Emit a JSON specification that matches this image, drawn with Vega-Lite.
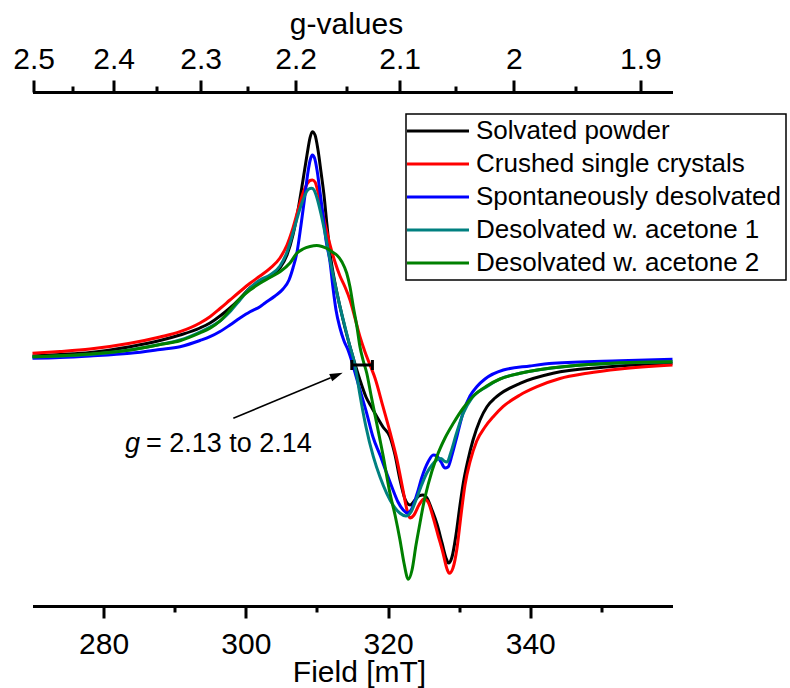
{
  "$schema": "https://vega.github.io/schema/vega-lite/v6.json",
  "width": 640,
  "height": 514,
  "autosize": {"type": "none"},
  "padding": {"left": 32.5, "top": 92, "right": 117.5, "bottom": 82},
  "background": "white",
  "config": {
    "view": {"stroke": null},
    "font": "Liberation Sans",
    "legend": {"strokeWidth": 1.5},
    "axis": {"domainColor": "black", "tickColor": "black", "labelColor": "black", "titleColor": "black", "domainWidth": 3, "tickWidth": 3, "labelFont": "Liberation Sans", "titleFont": "Liberation Sans", "labelFontSize": 30, "titleFontSize": 30, "titleFontWeight": "normal", "grid": false, "labelFlush": false, "labelOverlap": false}
  },
  "datasets": {
    "spectra": [
      {"sample": "Solvated powder", "field": 270.00, "signal": 0.01},
      {"sample": "Solvated powder", "field": 273.87, "signal": 0.025},
      {"sample": "Solvated powder", "field": 278.09, "signal": 0.045},
      {"sample": "Solvated powder", "field": 283.71, "signal": 0.103},
      {"sample": "Solvated powder", "field": 287.93, "signal": 0.165},
      {"sample": "Solvated powder", "field": 290.74, "signal": 0.22},
      {"sample": "Solvated powder", "field": 293.55, "signal": 0.29},
      {"sample": "Solvated powder", "field": 294.96, "signal": 0.34},
      {"sample": "Solvated powder", "field": 296.37, "signal": 0.41},
      {"sample": "Solvated powder", "field": 297.77, "signal": 0.49},
      {"sample": "Solvated powder", "field": 299.18, "signal": 0.585},
      {"sample": "Solvated powder", "field": 300.59, "signal": 0.69},
      {"sample": "Solvated powder", "field": 301.99, "signal": 0.76},
      {"sample": "Solvated powder", "field": 303.40, "signal": 0.803},
      {"sample": "Solvated powder", "field": 304.80, "signal": 0.89},
      {"sample": "Solvated powder", "field": 305.79, "signal": 1.02},
      {"sample": "Solvated powder", "field": 306.63, "signal": 1.22},
      {"sample": "Solvated powder", "field": 307.34, "signal": 1.47},
      {"sample": "Solvated powder", "field": 308.04, "signal": 1.77},
      {"sample": "Solvated powder", "field": 308.60, "signal": 2.02},
      {"sample": "Solvated powder", "field": 309.02, "signal": 2.19},
      {"sample": "Solvated powder", "field": 309.35, "signal": 2.253},
      {"sample": "Solvated powder", "field": 309.73, "signal": 2.22},
      {"sample": "Solvated powder", "field": 310.15, "signal": 2.07},
      {"sample": "Solvated powder", "field": 310.57, "signal": 1.85},
      {"sample": "Solvated powder", "field": 310.99, "signal": 1.62},
      {"sample": "Solvated powder", "field": 311.41, "signal": 1.32},
      {"sample": "Solvated powder", "field": 311.84, "signal": 1.04},
      {"sample": "Solvated powder", "field": 312.54, "signal": 0.74},
      {"sample": "Solvated powder", "field": 313.24, "signal": 0.503},
      {"sample": "Solvated powder", "field": 313.95, "signal": 0.29},
      {"sample": "Solvated powder", "field": 314.65, "signal": 0.103},
      {"sample": "Solvated powder", "field": 315.35, "signal": -0.07},
      {"sample": "Solvated powder", "field": 316.05, "signal": -0.23},
      {"sample": "Solvated powder", "field": 316.90, "signal": -0.40},
      {"sample": "Solvated powder", "field": 317.74, "signal": -0.51},
      {"sample": "Solvated powder", "field": 318.45, "signal": -0.60},
      {"sample": "Solvated powder", "field": 319.29, "signal": -0.70},
      {"sample": "Solvated powder", "field": 320.27, "signal": -0.80},
      {"sample": "Solvated powder", "field": 320.98, "signal": -0.98},
      {"sample": "Solvated powder", "field": 321.68, "signal": -1.23},
      {"sample": "Solvated powder", "field": 322.38, "signal": -1.42},
      {"sample": "Solvated powder", "field": 323.09, "signal": -1.48},
      {"sample": "Solvated powder", "field": 323.79, "signal": -1.43},
      {"sample": "Solvated powder", "field": 324.35, "signal": -1.39},
      {"sample": "Solvated powder", "field": 324.91, "signal": -1.38},
      {"sample": "Solvated powder", "field": 325.48, "signal": -1.41},
      {"sample": "Solvated powder", "field": 326.18, "signal": -1.53},
      {"sample": "Solvated powder", "field": 326.88, "signal": -1.67},
      {"sample": "Solvated powder", "field": 327.59, "signal": -1.86},
      {"sample": "Solvated powder", "field": 328.15, "signal": -2.01},
      {"sample": "Solvated powder", "field": 328.50, "signal": -2.06},
      {"sample": "Solvated powder", "field": 328.99, "signal": -2.00},
      {"sample": "Solvated powder", "field": 329.55, "signal": -1.78},
      {"sample": "Solvated powder", "field": 330.12, "signal": -1.48},
      {"sample": "Solvated powder", "field": 330.58, "signal": -1.26},
      {"sample": "Solvated powder", "field": 331.24, "signal": -1.03},
      {"sample": "Solvated powder", "field": 331.95, "signal": -0.83},
      {"sample": "Solvated powder", "field": 332.93, "signal": -0.63},
      {"sample": "Solvated powder", "field": 333.91, "signal": -0.497},
      {"sample": "Solvated powder", "field": 335.04, "signal": -0.41},
      {"sample": "Solvated powder", "field": 335.74, "signal": -0.37},
      {"sample": "Solvated powder", "field": 338.56, "signal": -0.263},
      {"sample": "Solvated powder", "field": 343.20, "signal": -0.163},
      {"sample": "Solvated powder", "field": 350.23, "signal": -0.103},
      {"sample": "Solvated powder", "field": 355.43, "signal": -0.075},
      {"sample": "Solvated powder", "field": 360.00, "signal": -0.063},

      {"sample": "Crushed single crystals", "field": 270.00, "signal": 0.037},
      {"sample": "Crushed single crystals", "field": 273.87, "signal": 0.055},
      {"sample": "Crushed single crystals", "field": 278.09, "signal": 0.08},
      {"sample": "Crushed single crystals", "field": 283.71, "signal": 0.137},
      {"sample": "Crushed single crystals", "field": 287.93, "signal": 0.20},
      {"sample": "Crushed single crystals", "field": 290.74, "signal": 0.253},
      {"sample": "Crushed single crystals", "field": 293.55, "signal": 0.34},
      {"sample": "Crushed single crystals", "field": 294.96, "signal": 0.403},
      {"sample": "Crushed single crystals", "field": 296.37, "signal": 0.485},
      {"sample": "Crushed single crystals", "field": 297.77, "signal": 0.57},
      {"sample": "Crushed single crystals", "field": 299.18, "signal": 0.655},
      {"sample": "Crushed single crystals", "field": 300.59, "signal": 0.737},
      {"sample": "Crushed single crystals", "field": 301.99, "signal": 0.81},
      {"sample": "Crushed single crystals", "field": 303.40, "signal": 0.887},
      {"sample": "Crushed single crystals", "field": 304.80, "signal": 0.99},
      {"sample": "Crushed single crystals", "field": 305.79, "signal": 1.12},
      {"sample": "Crushed single crystals", "field": 306.63, "signal": 1.29},
      {"sample": "Crushed single crystals", "field": 307.34, "signal": 1.47},
      {"sample": "Crushed single crystals", "field": 308.04, "signal": 1.64},
      {"sample": "Crushed single crystals", "field": 308.60, "signal": 1.73},
      {"sample": "Crushed single crystals", "field": 309.02, "signal": 1.765},
      {"sample": "Crushed single crystals", "field": 309.35, "signal": 1.77},
      {"sample": "Crushed single crystals", "field": 309.73, "signal": 1.75},
      {"sample": "Crushed single crystals", "field": 310.15, "signal": 1.65},
      {"sample": "Crushed single crystals", "field": 310.71, "signal": 1.47},
      {"sample": "Crushed single crystals", "field": 311.27, "signal": 1.29},
      {"sample": "Crushed single crystals", "field": 311.84, "signal": 1.12},
      {"sample": "Crushed single crystals", "field": 312.54, "signal": 0.95},
      {"sample": "Crushed single crystals", "field": 313.24, "signal": 0.81},
      {"sample": "Crushed single crystals", "field": 313.95, "signal": 0.70},
      {"sample": "Crushed single crystals", "field": 314.65, "signal": 0.57},
      {"sample": "Crushed single crystals", "field": 315.35, "signal": 0.39},
      {"sample": "Crushed single crystals", "field": 316.05, "signal": 0.203},
      {"sample": "Crushed single crystals", "field": 316.76, "signal": 0.05},
      {"sample": "Crushed single crystals", "field": 317.46, "signal": -0.08},
      {"sample": "Crushed single crystals", "field": 318.16, "signal": -0.21},
      {"sample": "Crushed single crystals", "field": 319.29, "signal": -0.497},
      {"sample": "Crushed single crystals", "field": 320.27, "signal": -0.75},
      {"sample": "Crushed single crystals", "field": 321.26, "signal": -1.03},
      {"sample": "Crushed single crystals", "field": 322.10, "signal": -1.33},
      {"sample": "Crushed single crystals", "field": 322.66, "signal": -1.53},
      {"sample": "Crushed single crystals", "field": 323.09, "signal": -1.61},
      {"sample": "Crushed single crystals", "field": 323.65, "signal": -1.58},
      {"sample": "Crushed single crystals", "field": 324.35, "signal": -1.48},
      {"sample": "Crushed single crystals", "field": 325.05, "signal": -1.42},
      {"sample": "Crushed single crystals", "field": 325.62, "signal": -1.45},
      {"sample": "Crushed single crystals", "field": 326.32, "signal": -1.60},
      {"sample": "Crushed single crystals", "field": 327.02, "signal": -1.78},
      {"sample": "Crushed single crystals", "field": 327.73, "signal": -1.96},
      {"sample": "Crushed single crystals", "field": 328.29, "signal": -2.12},
      {"sample": "Crushed single crystals", "field": 328.61, "signal": -2.163},
      {"sample": "Crushed single crystals", "field": 329.13, "signal": -2.11},
      {"sample": "Crushed single crystals", "field": 329.70, "signal": -1.91},
      {"sample": "Crushed single crystals", "field": 330.26, "signal": -1.58},
      {"sample": "Crushed single crystals", "field": 330.82, "signal": -1.28},
      {"sample": "Crushed single crystals", "field": 331.52, "signal": -1.05},
      {"sample": "Crushed single crystals", "field": 332.47, "signal": -0.84},
      {"sample": "Crushed single crystals", "field": 333.63, "signal": -0.70},
      {"sample": "Crushed single crystals", "field": 334.76, "signal": -0.60},
      {"sample": "Crushed single crystals", "field": 336.16, "signal": -0.497},
      {"sample": "Crushed single crystals", "field": 338.56, "signal": -0.38},
      {"sample": "Crushed single crystals", "field": 340.95, "signal": -0.297},
      {"sample": "Crushed single crystals", "field": 344.18, "signal": -0.215},
      {"sample": "Crushed single crystals", "field": 347.98, "signal": -0.163},
      {"sample": "Crushed single crystals", "field": 352.62, "signal": -0.12},
      {"sample": "Crushed single crystals", "field": 360.00, "signal": -0.08},

      {"sample": "Spontaneously desolvated", "field": 270.00, "signal": -0.013},
      {"sample": "Spontaneously desolvated", "field": 273.87, "signal": -0.005},
      {"sample": "Spontaneously desolvated", "field": 278.09, "signal": 0.01},
      {"sample": "Spontaneously desolvated", "field": 283.71, "signal": 0.037},
      {"sample": "Spontaneously desolvated", "field": 287.93, "signal": 0.075},
      {"sample": "Spontaneously desolvated", "field": 290.74, "signal": 0.103},
      {"sample": "Spontaneously desolvated", "field": 293.55, "signal": 0.165},
      {"sample": "Spontaneously desolvated", "field": 294.96, "signal": 0.203},
      {"sample": "Spontaneously desolvated", "field": 296.37, "signal": 0.255},
      {"sample": "Spontaneously desolvated", "field": 297.77, "signal": 0.32},
      {"sample": "Spontaneously desolvated", "field": 299.18, "signal": 0.39},
      {"sample": "Spontaneously desolvated", "field": 300.59, "signal": 0.453},
      {"sample": "Spontaneously desolvated", "field": 301.99, "signal": 0.503},
      {"sample": "Spontaneously desolvated", "field": 302.70, "signal": 0.54},
      {"sample": "Spontaneously desolvated", "field": 304.10, "signal": 0.61},
      {"sample": "Spontaneously desolvated", "field": 305.23, "signal": 0.68},
      {"sample": "Spontaneously desolvated", "field": 306.07, "signal": 0.77},
      {"sample": "Spontaneously desolvated", "field": 306.63, "signal": 0.89},
      {"sample": "Spontaneously desolvated", "field": 307.20, "signal": 1.05},
      {"sample": "Spontaneously desolvated", "field": 307.76, "signal": 1.32},
      {"sample": "Spontaneously desolvated", "field": 308.32, "signal": 1.62},
      {"sample": "Spontaneously desolvated", "field": 308.74, "signal": 1.85},
      {"sample": "Spontaneously desolvated", "field": 309.09, "signal": 1.98},
      {"sample": "Spontaneously desolvated", "field": 309.35, "signal": 2.02},
      {"sample": "Spontaneously desolvated", "field": 309.66, "signal": 1.99},
      {"sample": "Spontaneously desolvated", "field": 310.01, "signal": 1.87},
      {"sample": "Spontaneously desolvated", "field": 310.43, "signal": 1.65},
      {"sample": "Spontaneously desolvated", "field": 310.85, "signal": 1.42},
      {"sample": "Spontaneously desolvated", "field": 311.27, "signal": 1.17},
      {"sample": "Spontaneously desolvated", "field": 311.84, "signal": 0.95},
      {"sample": "Spontaneously desolvated", "field": 312.26, "signal": 0.69},
      {"sample": "Spontaneously desolvated", "field": 312.68, "signal": 0.47},
      {"sample": "Spontaneously desolvated", "field": 313.24, "signal": 0.29},
      {"sample": "Spontaneously desolvated", "field": 313.81, "signal": 0.16},
      {"sample": "Spontaneously desolvated", "field": 314.37, "signal": 0.07},
      {"sample": "Spontaneously desolvated", "field": 314.93, "signal": -0.05},
      {"sample": "Spontaneously desolvated", "field": 315.49, "signal": -0.19},
      {"sample": "Spontaneously desolvated", "field": 316.05, "signal": -0.33},
      {"sample": "Spontaneously desolvated", "field": 317.00, "signal": -0.563},
      {"sample": "Spontaneously desolvated", "field": 317.88, "signal": -0.80},
      {"sample": "Spontaneously desolvated", "field": 318.87, "signal": -0.98},
      {"sample": "Spontaneously desolvated", "field": 319.81, "signal": -1.163},
      {"sample": "Spontaneously desolvated", "field": 320.70, "signal": -1.33},
      {"sample": "Spontaneously desolvated", "field": 321.40, "signal": -1.45},
      {"sample": "Spontaneously desolvated", "field": 322.14, "signal": -1.53},
      {"sample": "Spontaneously desolvated", "field": 322.66, "signal": -1.56},
      {"sample": "Spontaneously desolvated", "field": 323.23, "signal": -1.53},
      {"sample": "Spontaneously desolvated", "field": 324.07, "signal": -1.37},
      {"sample": "Spontaneously desolvated", "field": 324.77, "signal": -1.20},
      {"sample": "Spontaneously desolvated", "field": 325.62, "signal": -1.05},
      {"sample": "Spontaneously desolvated", "field": 326.36, "signal": -0.98},
      {"sample": "Spontaneously desolvated", "field": 326.88, "signal": -0.99},
      {"sample": "Spontaneously desolvated", "field": 327.45, "signal": -1.05},
      {"sample": "Spontaneously desolvated", "field": 328.01, "signal": -1.11},
      {"sample": "Spontaneously desolvated", "field": 328.43, "signal": -1.10},
      {"sample": "Spontaneously desolvated", "field": 328.99, "signal": -0.98},
      {"sample": "Spontaneously desolvated", "field": 329.70, "signal": -0.79},
      {"sample": "Spontaneously desolvated", "field": 330.58, "signal": -0.55},
      {"sample": "Spontaneously desolvated", "field": 331.52, "signal": -0.39},
      {"sample": "Spontaneously desolvated", "field": 332.47, "signal": -0.297},
      {"sample": "Spontaneously desolvated", "field": 333.63, "signal": -0.22},
      {"sample": "Spontaneously desolvated", "field": 336.21, "signal": -0.13},
      {"sample": "Spontaneously desolvated", "field": 339.96, "signal": -0.09},
      {"sample": "Spontaneously desolvated", "field": 343.20, "signal": -0.063},
      {"sample": "Spontaneously desolvated", "field": 352.62, "signal": -0.037},
      {"sample": "Spontaneously desolvated", "field": 360.00, "signal": -0.023},

      {"sample": "Desolvated w. acetone 1", "field": 270.00, "signal": 0.00},
      {"sample": "Desolvated w. acetone 1", "field": 273.87, "signal": 0.01},
      {"sample": "Desolvated w. acetone 1", "field": 278.09, "signal": 0.025},
      {"sample": "Desolvated w. acetone 1", "field": 283.71, "signal": 0.07},
      {"sample": "Desolvated w. acetone 1", "field": 287.93, "signal": 0.125},
      {"sample": "Desolvated w. acetone 1", "field": 290.74, "signal": 0.17},
      {"sample": "Desolvated w. acetone 1", "field": 293.55, "signal": 0.25},
      {"sample": "Desolvated w. acetone 1", "field": 294.96, "signal": 0.30},
      {"sample": "Desolvated w. acetone 1", "field": 296.37, "signal": 0.36},
      {"sample": "Desolvated w. acetone 1", "field": 297.77, "signal": 0.453},
      {"sample": "Desolvated w. acetone 1", "field": 299.18, "signal": 0.57},
      {"sample": "Desolvated w. acetone 1", "field": 300.59, "signal": 0.69},
      {"sample": "Desolvated w. acetone 1", "field": 301.99, "signal": 0.77},
      {"sample": "Desolvated w. acetone 1", "field": 303.40, "signal": 0.82},
      {"sample": "Desolvated w. acetone 1", "field": 304.80, "signal": 0.91},
      {"sample": "Desolvated w. acetone 1", "field": 305.79, "signal": 1.05},
      {"sample": "Desolvated w. acetone 1", "field": 306.63, "signal": 1.24},
      {"sample": "Desolvated w. acetone 1", "field": 307.34, "signal": 1.42},
      {"sample": "Desolvated w. acetone 1", "field": 308.04, "signal": 1.57},
      {"sample": "Desolvated w. acetone 1", "field": 308.60, "signal": 1.66},
      {"sample": "Desolvated w. acetone 1", "field": 309.02, "signal": 1.685},
      {"sample": "Desolvated w. acetone 1", "field": 309.26, "signal": 1.687},
      {"sample": "Desolvated w. acetone 1", "field": 309.59, "signal": 1.67},
      {"sample": "Desolvated w. acetone 1", "field": 310.01, "signal": 1.59},
      {"sample": "Desolvated w. acetone 1", "field": 310.57, "signal": 1.43},
      {"sample": "Desolvated w. acetone 1", "field": 311.13, "signal": 1.24},
      {"sample": "Desolvated w. acetone 1", "field": 311.84, "signal": 0.97},
      {"sample": "Desolvated w. acetone 1", "field": 312.54, "signal": 0.73},
      {"sample": "Desolvated w. acetone 1", "field": 313.24, "signal": 0.503},
      {"sample": "Desolvated w. acetone 1", "field": 313.95, "signal": 0.30},
      {"sample": "Desolvated w. acetone 1", "field": 314.65, "signal": 0.103},
      {"sample": "Desolvated w. acetone 1", "field": 315.11, "signal": -0.01},
      {"sample": "Desolvated w. acetone 1", "field": 315.59, "signal": -0.18},
      {"sample": "Desolvated w. acetone 1", "field": 316.05, "signal": -0.38},
      {"sample": "Desolvated w. acetone 1", "field": 316.90, "signal": -0.70},
      {"sample": "Desolvated w. acetone 1", "field": 317.93, "signal": -0.997},
      {"sample": "Desolvated w. acetone 1", "field": 318.87, "signal": -1.20},
      {"sample": "Desolvated w. acetone 1", "field": 319.81, "signal": -1.363},
      {"sample": "Desolvated w. acetone 1", "field": 320.70, "signal": -1.48},
      {"sample": "Desolvated w. acetone 1", "field": 321.68, "signal": -1.563},
      {"sample": "Desolvated w. acetone 1", "field": 322.52, "signal": -1.59},
      {"sample": "Desolvated w. acetone 1", "field": 323.23, "signal": -1.55},
      {"sample": "Desolvated w. acetone 1", "field": 323.93, "signal": -1.43},
      {"sample": "Desolvated w. acetone 1", "field": 324.63, "signal": -1.297},
      {"sample": "Desolvated w. acetone 1", "field": 325.43, "signal": -1.163},
      {"sample": "Desolvated w. acetone 1", "field": 326.18, "signal": -1.08},
      {"sample": "Desolvated w. acetone 1", "field": 326.84, "signal": -1.03},
      {"sample": "Desolvated w. acetone 1", "field": 327.45, "signal": -1.015},
      {"sample": "Desolvated w. acetone 1", "field": 327.87, "signal": -1.04},
      {"sample": "Desolvated w. acetone 1", "field": 328.29, "signal": -1.05},
      {"sample": "Desolvated w. acetone 1", "field": 328.85, "signal": -0.95},
      {"sample": "Desolvated w. acetone 1", "field": 329.55, "signal": -0.78},
      {"sample": "Desolvated w. acetone 1", "field": 330.58, "signal": -0.563},
      {"sample": "Desolvated w. acetone 1", "field": 331.80, "signal": -0.41},
      {"sample": "Desolvated w. acetone 1", "field": 333.87, "signal": -0.297},
      {"sample": "Desolvated w. acetone 1", "field": 335.74, "signal": -0.22},
      {"sample": "Desolvated w. acetone 1", "field": 338.56, "signal": -0.163},
      {"sample": "Desolvated w. acetone 1", "field": 345.59, "signal": -0.09},
      {"sample": "Desolvated w. acetone 1", "field": 352.62, "signal": -0.06},
      {"sample": "Desolvated w. acetone 1", "field": 360.00, "signal": -0.047},

      {"sample": "Desolvated w. acetone 2", "field": 270.00, "signal": 0.003},
      {"sample": "Desolvated w. acetone 2", "field": 273.87, "signal": 0.012},
      {"sample": "Desolvated w. acetone 2", "field": 278.09, "signal": 0.03},
      {"sample": "Desolvated w. acetone 2", "field": 283.71, "signal": 0.07},
      {"sample": "Desolvated w. acetone 2", "field": 287.93, "signal": 0.125},
      {"sample": "Desolvated w. acetone 2", "field": 290.74, "signal": 0.163},
      {"sample": "Desolvated w. acetone 2", "field": 293.55, "signal": 0.24},
      {"sample": "Desolvated w. acetone 2", "field": 294.96, "signal": 0.287},
      {"sample": "Desolvated w. acetone 2", "field": 296.37, "signal": 0.36},
      {"sample": "Desolvated w. acetone 2", "field": 297.77, "signal": 0.47},
      {"sample": "Desolvated w. acetone 2", "field": 299.18, "signal": 0.585},
      {"sample": "Desolvated w. acetone 2", "field": 300.59, "signal": 0.67},
      {"sample": "Desolvated w. acetone 2", "field": 301.99, "signal": 0.737},
      {"sample": "Desolvated w. acetone 2", "field": 303.40, "signal": 0.795},
      {"sample": "Desolvated w. acetone 2", "field": 304.80, "signal": 0.853},
      {"sample": "Desolvated w. acetone 2", "field": 306.21, "signal": 0.94},
      {"sample": "Desolvated w. acetone 2", "field": 307.20, "signal": 1.04},
      {"sample": "Desolvated w. acetone 2", "field": 308.04, "signal": 1.08},
      {"sample": "Desolvated w. acetone 2", "field": 309.02, "signal": 1.105},
      {"sample": "Desolvated w. acetone 2", "field": 309.97, "signal": 1.115},
      {"sample": "Desolvated w. acetone 2", "field": 310.71, "signal": 1.105},
      {"sample": "Desolvated w. acetone 2", "field": 311.55, "signal": 1.08},
      {"sample": "Desolvated w. acetone 2", "field": 312.26, "signal": 1.045},
      {"sample": "Desolvated w. acetone 2", "field": 312.78, "signal": 1.02},
      {"sample": "Desolvated w. acetone 2", "field": 313.52, "signal": 0.95},
      {"sample": "Desolvated w. acetone 2", "field": 314.18, "signal": 0.84},
      {"sample": "Desolvated w. acetone 2", "field": 314.65, "signal": 0.70},
      {"sample": "Desolvated w. acetone 2", "field": 315.11, "signal": 0.503},
      {"sample": "Desolvated w. acetone 2", "field": 315.63, "signal": 0.30},
      {"sample": "Desolvated w. acetone 2", "field": 316.05, "signal": 0.103},
      {"sample": "Desolvated w. acetone 2", "field": 316.48, "signal": -0.03},
      {"sample": "Desolvated w. acetone 2", "field": 317.00, "signal": -0.16},
      {"sample": "Desolvated w. acetone 2", "field": 317.60, "signal": -0.38},
      {"sample": "Desolvated w. acetone 2", "field": 318.40, "signal": -0.663},
      {"sample": "Desolvated w. acetone 2", "field": 319.29, "signal": -0.98},
      {"sample": "Desolvated w. acetone 2", "field": 320.27, "signal": -1.363},
      {"sample": "Desolvated w. acetone 2", "field": 320.98, "signal": -1.58},
      {"sample": "Desolvated w. acetone 2", "field": 321.68, "signal": -1.83},
      {"sample": "Desolvated w. acetone 2", "field": 322.24, "signal": -2.06},
      {"sample": "Desolvated w. acetone 2", "field": 322.85, "signal": -2.223},
      {"sample": "Desolvated w. acetone 2", "field": 323.37, "signal": -2.13},
      {"sample": "Desolvated w. acetone 2", "field": 323.93, "signal": -1.88},
      {"sample": "Desolvated w. acetone 2", "field": 324.49, "signal": -1.66},
      {"sample": "Desolvated w. acetone 2", "field": 324.96, "signal": -1.48},
      {"sample": "Desolvated w. acetone 2", "field": 325.62, "signal": -1.28},
      {"sample": "Desolvated w. acetone 2", "field": 326.84, "signal": -1.00},
      {"sample": "Desolvated w. acetone 2", "field": 328.01, "signal": -0.81},
      {"sample": "Desolvated w. acetone 2", "field": 329.18, "signal": -0.663},
      {"sample": "Desolvated w. acetone 2", "field": 330.58, "signal": -0.51},
      {"sample": "Desolvated w. acetone 2", "field": 331.99, "signal": -0.39},
      {"sample": "Desolvated w. acetone 2", "field": 333.87, "signal": -0.29},
      {"sample": "Desolvated w. acetone 2", "field": 335.74, "signal": -0.22},
      {"sample": "Desolvated w. acetone 2", "field": 338.56, "signal": -0.163},
      {"sample": "Desolvated w. acetone 2", "field": 345.59, "signal": -0.09},
      {"sample": "Desolvated w. acetone 2", "field": 352.62, "signal": -0.057},
      {"sample": "Desolvated w. acetone 2", "field": 360.00, "signal": -0.047}
    ]
  },
  "resolve": {"axis": {"x": "independent"}},
  "layer": [
    {
      "data": {"name": "spectra"},
      "mark": {"type": "line", "strokeWidth": 3, "interpolate": "monotone"},
      "encoding": {
        "x": {"field": "field", "type": "quantitative", "scale": {"domain": [270, 360], "nice": false, "zero": false},
          "axis": {"orient": "bottom", "values": [280, 300, 320, 340], "tickSize": 12, "labelPadding": 11.5, "title": "Field [mT]", "titlePadding": -2, "titleX": 326.5}},
        "y": {"field": "signal", "type": "quantitative", "scale": {"domain": [-2.49, 2.65], "nice": false, "zero": false}, "axis": null},
        "color": {"field": "sample", "type": "nominal",
          "scale": {"domain": ["Solvated powder", "Crushed single crystals", "Spontaneously desolvated", "Desolvated w. acetone 1", "Desolvated w. acetone 2"], "range": ["#000000", "#ff0000", "#0000ff", "#008080", "#008000"]},
          "legend": {"title": null, "orient": "none", "legendX": 373.5, "legendY": 22, "strokeColor": "black", "fillColor": "white", "padding": 4, "symbolType": "M-3,0H3", "symbolStrokeWidth": 3, "symbolSize": 427, "symbolOffset": 15, "labelFontSize": 26, "labelFont": "Liberation Sans", "labelColor": "black", "labelOffset": 25, "labelLimit": 500, "rowPadding": 7}
        }
      }
    },
    {
      "data": {"values": [{"from": 314.9, "to": 317.8, "level": -0.08}]},
      "mark": {"type": "rule", "strokeWidth": 3, "color": "black"},
      "encoding": {
        "x": {"field": "from", "type": "quantitative", "axis": {"orient": "bottom", "values": [290, 310, 330, 350], "tickSize": 6, "labels": false, "domain": false, "title": null}},
        "x2": {"field": "to"},
        "y": {"field": "level", "type": "quantitative", "axis": null}
      }
    },
    {
      "data": {"values": [{"end": 314.9, "level": -0.08}, {"end": 317.8, "level": -0.08}]},
      "mark": {"type": "tick", "orient": "vertical", "size": 10, "thickness": 3, "color": "black", "opacity": 1},
      "encoding": {
        "x": {"field": "end", "type": "quantitative", "axis": {"orient": "top", "values": [270.16, 281.417, 293.652, 307.0, 321.619, 337.7, 355.474], "labelExpr": "format(675.4 / datum.value, '.1~f')", "tickSize": 12, "labelPadding": 6, "title": "g-values", "titlePadding": 5, "titleX": 313.5}},
        "y": {"field": "level", "type": "quantitative", "axis": null}
      }
    },
    {
      "data": {"values": [{"x0": 298.24, "y0": -0.613, "x1": 311.93, "y1": -0.207}]},
      "mark": {"type": "rule", "strokeWidth": 1.5, "color": "black"},
      "encoding": {
        "x": {"field": "x0", "type": "quantitative", "axis": {"orient": "top", "values": [275.673, 287.404, 300.178, 314.14, 329.463, 346.359], "tickSize": 6, "labels": false, "domain": false, "title": null}},
        "y": {"field": "y0", "type": "quantitative", "axis": null},
        "x2": {"field": "x1"},
        "y2": {"field": "y1"}
      }
    },
    {
      "data": {"values": [{"x": 312.78, "y": -0.182}]},
      "mark": {"type": "point", "shape": "M1,0L-1,-0.6L-1,0.6Z", "filled": true, "color": "black", "size": 169, "angle": 337.4, "opacity": 1},
      "encoding": {
        "x": {"field": "x", "type": "quantitative", "axis": null},
        "y": {"field": "y", "type": "quantitative", "axis": null}
      }
    },
    {
      "data": {"values": [{"x": 283.01, "y": -0.947, "label": "g"}]},
      "mark": {"type": "text", "fontStyle": "italic", "fontSize": 27, "align": "left", "baseline": "alphabetic", "font": "Liberation Sans", "color": "black"},
      "encoding": {
        "x": {"field": "x", "type": "quantitative", "axis": null},
        "y": {"field": "y", "type": "quantitative", "axis": null},
        "text": {"field": "label"}
      }
    },
    {
      "data": {"values": [{"x": 285.96, "y": -0.947, "label": "= 2.13 to 2.14"}]},
      "mark": {"type": "text", "fontSize": 27, "align": "left", "baseline": "alphabetic", "font": "Liberation Sans", "color": "black"},
      "encoding": {
        "x": {"field": "x", "type": "quantitative", "axis": null},
        "y": {"field": "y", "type": "quantitative", "axis": null},
        "text": {"field": "label"}
      }
    }
  ]
}
